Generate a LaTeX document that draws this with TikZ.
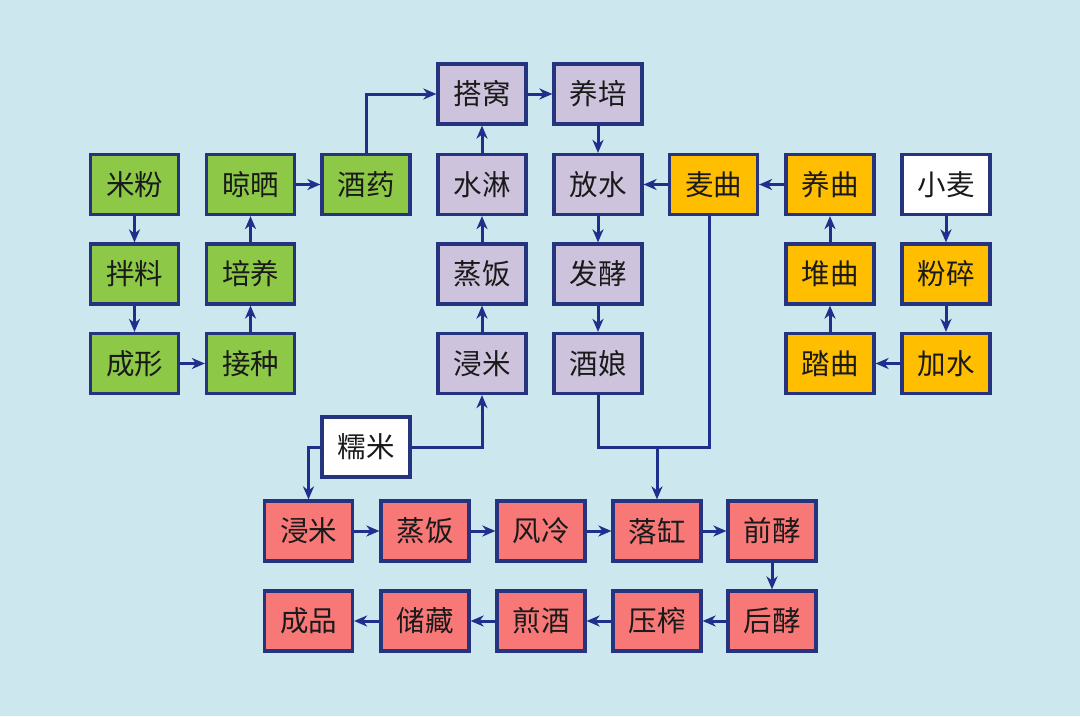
\documentclass[tikz,border=0pt]{standalone}
\usepackage{fontspec}
\newfontfamily\cjk{Noto Sans CJK SC}
\usetikzlibrary{arrows.meta}
\definecolor{bgc}{HTML}{CCE7EE}
\definecolor{gr}{HTML}{8DC847}
\definecolor{pu}{HTML}{CDC3DD}
\definecolor{og}{HTML}{FFBF00}
\definecolor{rd}{HTML}{F87878}
\definecolor{bd}{HTML}{26337F}
\definecolor{ar}{HTML}{1F2F8C}
\definecolor{tx}{HTML}{1A1A1A}
\begin{document}
\begin{tikzpicture}[x=1pt,y=-1pt,
  proc/.style={draw=bd,line width=3.2pt,minimum width=88pt,minimum height=60pt,inner sep=0pt,
    text=tx,font=\cjk\fontsize{28.5}{28.5}\selectfont},
  grn/.style={proc,fill=gr},
  pur/.style={proc,fill=pu},
  org/.style={proc,fill=og},
  wht/.style={proc,fill=white},
  red/.style={proc,fill=rd},
  conn/.style={draw=ar,line width=3pt,-{Stealth[length=13pt,width=11pt,inset=4pt]}},
  plain/.style={draw=ar,line width=3pt}]
\fill[bgc] (0,0) rectangle (1080,716);
\useasboundingbox (0,0) rectangle (1080,716);
% green
\node[grn] (mf) at (134.5,184.5) {米粉};
\node[grn] (bl) at (134.5,274) {拌料};
\node[grn] (cx) at (134.5,363.5) {成形};
\node[grn] (ls) at (250.5,184.5) {晾晒};
\node[grn] (py) at (250.5,274) {培养};
\node[grn] (jz) at (250.5,363.5) {接种};
\node[grn] (jy) at (366,184.5) {酒药};
% purple
\node[pur] (dw) at (482,94) {搭窝};
\node[pur] (yp) at (598,94) {养培};
\node[pur] (sl) at (482,184.5) {水淋};
\node[pur] (zfp) at (482,274) {蒸饭};
\node[pur] (jmp) at (482,363.5) {浸米};
\node[pur] (fs) at (598,184.5) {放水};
\node[pur] (fj) at (598,274) {发酵};
\node[pur] (jn) at (598,363.5) {酒娘};
% orange
\node[org] (mq) at (713.5,184.5) {麦曲};
\node[org] (yq) at (830,184.5) {养曲};
\node[wht] (xm) at (946,184.5) {小麦};
\node[org] (dq) at (830,274) {堆曲};
\node[org] (fsu) at (946,274) {粉碎};
\node[org] (tq) at (830,363.5) {踏曲};
\node[org] (js) at (946,363.5) {加水};
% nuomi
\node[wht] (nm) at (366,447) {糯米};
% red
\node[red] (r1) at (308.5,531) {浸米};
\node[red] (r2) at (425,531) {蒸饭};
\node[red] (r3) at (541,531) {风冷};
\node[red] (r4) at (657,531) {落缸};
\node[red] (r5) at (772,531) {前酵};
\node[red] (s1) at (308.5,621) {成品};
\node[red] (s2) at (425,621) {储藏};
\node[red] (s3) at (541,621) {煎酒};
\node[red] (s4) at (657,621) {压榨};
\node[red] (s5) at (772,621) {后酵};
% green arrows
\draw[conn] (mf) -- (bl);
\draw[conn] (bl) -- (cx);
\draw[conn] (cx) -- (jz);
\draw[conn] (jz) -- (py);
\draw[conn] (py) -- (ls);
\draw[conn] (ls) -- (jy);
\draw[conn] (jy.north) |- (dw.west);
% purple arrows
\draw[conn] (dw) -- (yp);
\draw[conn] (yp) -- (fs);
\draw[conn] (fs) -- (fj);
\draw[conn] (fj) -- (jn);
\draw[conn] (jmp) -- (zfp);
\draw[conn] (zfp) -- (sl);
\draw[conn] (sl) -- (dw);
% orange arrows
\draw[conn] (mq) -- (fs);
\draw[conn] (yq) -- (mq);
\draw[conn] (xm) -- (fsu);
\draw[conn] (fsu) -- (js);
\draw[conn] (js) -- (tq);
\draw[conn] (tq) -- (dq);
\draw[conn] (dq) -- (yq);
% nuomi arrows
\draw[conn] (nm.west) -| (r1.north);
\draw[conn] (nm.east) -| (jmp.south);
% bracket
\coordinate (mqb) at (709,214.5);
\coordinate (jnb) at (598,447);
\coordinate (mqc) at (709,447);
\coordinate (mid) at (657,447);
\draw[plain] (jn.south) -- (jnb) -- (mqc) -- (mqb);
\draw[conn] (mid) -- (r4.north);
% red arrows
\draw[conn] (r1) -- (r2);
\draw[conn] (r2) -- (r3);
\draw[conn] (r3) -- (r4);
\draw[conn] (r4) -- (r5);
\draw[conn] (r5) -- (s5);
\draw[conn] (s5) -- (s4);
\draw[conn] (s4) -- (s3);
\draw[conn] (s3) -- (s2);
\draw[conn] (s2) -- (s1);
\end{tikzpicture}
\end{document}
